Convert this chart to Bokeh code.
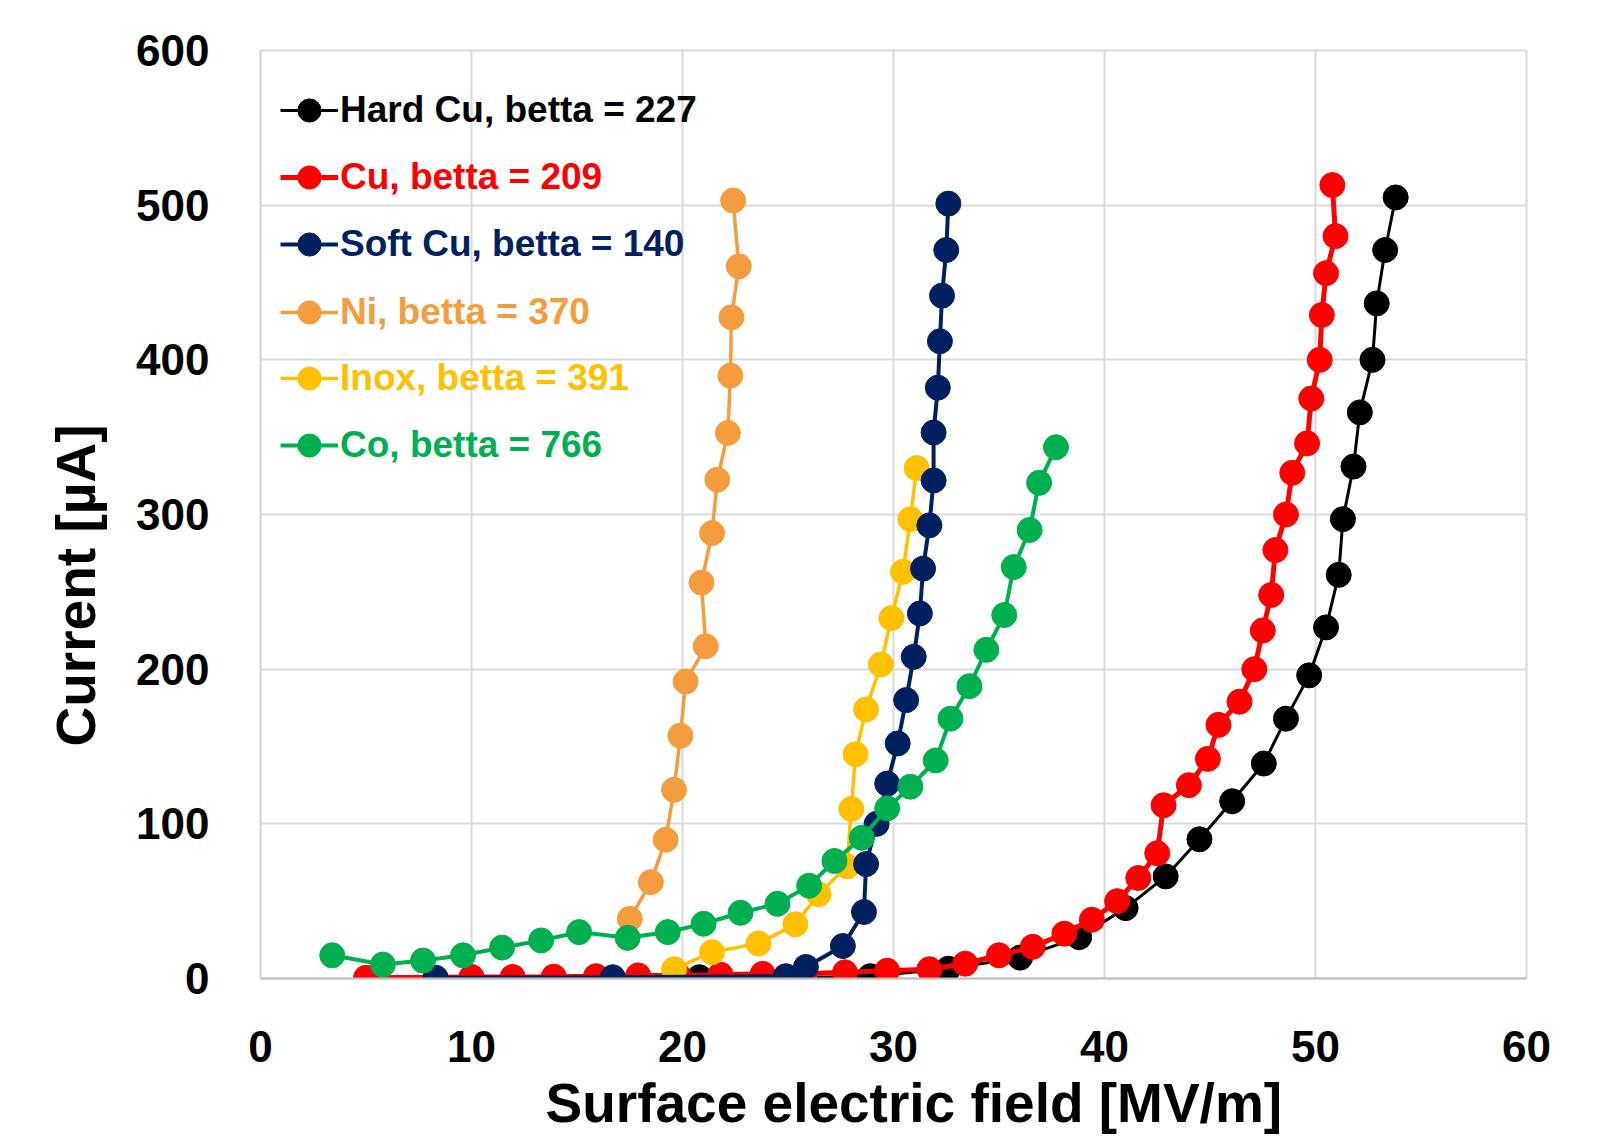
from bokeh.plotting import figure
from bokeh.models import Legend, LegendItem, Title, FixedTicker, Range1d
from bokeh.embed import file_html
from bokeh.resources import INLINE

# ---- data ----
hard_cu_x = [20.8, 24.95, 28.9, 32.6, 36.0, 38.8, 41.0, 42.9, 44.5, 46.05, 47.55,
             48.6, 49.7, 50.5, 51.1, 51.3, 51.8, 52.1, 52.7, 52.9, 53.3, 53.8]
hard_cu_y = [0.8, 0.5, 1.5, 6.3, 13.5, 26.7, 45.5, 66, 90, 114.6, 139,
             168, 196, 227, 261, 297, 331, 366, 400, 436.5, 471, 505]

cu_x = [5.0, 10.0, 11.95, 13.9, 15.9, 17.9, 19.8, 21.8, 23.8, 25.8, 27.7, 29.7, 31.7,
        33.4, 35.0, 36.6, 38.1, 39.4, 40.6, 41.6, 42.5, 42.8, 44.0, 44.9, 45.4, 46.4,
        47.1, 47.5, 47.9, 48.1, 48.6, 48.9, 49.6, 49.8, 50.2, 50.3, 50.5, 50.95, 50.8]
cu_y = [0.5, 1, 1, 1.2, 1.5, 2, 2, 2.5, 3, 3, 4, 5, 6,
        9.6, 15, 20.5, 29, 38, 50, 65, 81, 112, 125, 142, 164, 179,
        200, 225, 248, 277, 300, 327, 346, 375, 400, 429, 456, 480, 513]

soft_cu_x = [8.3, 16.7, 24.9, 25.85, 27.6, 28.6, 28.7, 29.2, 29.7, 30.2, 30.6,
             30.96, 31.25, 31.4, 31.7, 31.9, 31.9, 32.1, 32.2, 32.3, 32.5, 32.6]
soft_cu_y = [0.5, 0.8, 1.5, 7.5, 21, 43, 74, 100, 126, 152, 180,
             208, 236, 265, 293, 322, 353, 382, 412, 441.5, 471, 501]

ni_x = [17.5, 18.5, 19.2, 19.6, 19.9, 20.15, 21.1, 20.9, 21.4, 21.65, 22.15,
        22.27, 22.32, 22.67, 22.4]
ni_y = [38.6, 62.3, 89.7, 122, 157, 192, 214.8, 256, 288, 322.5, 352.7,
        389.8, 427.5, 460.5, 503]

inox_x = [19.6, 21.4, 23.6, 25.35, 26.45, 27.8, 28.0, 28.2, 28.7, 29.4, 29.9,
          30.45, 30.8, 31.1]
inox_y = [6, 17, 22.7, 35, 54.5, 72.5, 109.6, 145, 174, 203, 233,
          263, 297, 330]

co_x = [3.4, 5.8, 7.7, 9.6, 11.45, 13.3, 15.1, 17.4, 19.3, 21.0, 22.75, 24.5, 26.0,
        27.2, 28.5, 29.7, 30.8, 32.0, 32.7, 33.6, 34.4, 35.25, 35.7, 36.45, 36.9, 37.7]
co_y = [15, 9, 11.6, 15, 20, 24.6, 30, 26.3, 30, 35.4, 42.5, 48.3, 60,
        76, 91, 110, 124, 141, 168, 189, 212.5, 235, 266, 290, 320.5, 343.5]

series_labels = ["Hard Cu, betta = 227", "Cu, betta = 209", "Soft Cu, betta = 140",
                 "Ni, betta = 370", "Inox, betta = 391", "Co, betta = 766"]
series_colors = ["#000000", "#FF0000", "#002060", "#F59D3E", "#FFC000", "#00B050"]
x_ticks = [0, 10, 20, 30, 40, 50, 60]
y_ticks = [0, 100, 200, 300, 400, 500, 600]
x_title = "Surface electric field [MV/m]"
y_title = "Current [µA]"

FONT = "Liberation Sans"

p = figure(width=1613, height=1142, x_range=Range1d(0, 60), y_range=Range1d(0, 600),
           output_backend="svg", toolbar_location=None,
           min_border_left=260, min_border_right=87, min_border_top=50, min_border_bottom=164)
p.background_fill_color = "white"
p.border_fill_color = "white"
p.outline_line_color = "#D9D9D9"
p.outline_line_width = 2

p.xaxis.ticker = FixedTicker(ticks=x_ticks)
p.yaxis.ticker = FixedTicker(ticks=y_ticks)
for ax in (p.xaxis[0], p.yaxis[0]):
    ax.major_tick_out = 0
    ax.major_tick_in = 0
    ax.minor_tick_out = 0
    ax.minor_tick_in = 0
    ax.major_label_text_font = FONT
    ax.major_label_text_font_style = "bold"
    ax.major_label_text_font_size = "44px"
    ax.major_label_text_color = "black"
p.xaxis.axis_line_color = "#BFBFBF"
p.xaxis.axis_line_width = 2
p.yaxis.axis_line_color = "#D9D9D9"
p.yaxis.axis_line_width = 2
p.xaxis.major_label_standoff = 52
p.yaxis.major_label_standoff = 51

p.xgrid.grid_line_color = "#D9D9D9"
p.ygrid.grid_line_color = "#D9D9D9"
p.xgrid.grid_line_width = 2
p.ygrid.grid_line_width = 2

data = [
    (hard_cu_x, hard_cu_y, 3),
    (cu_x, cu_y, 5),
    (soft_cu_x, soft_cu_y, 4),
    (ni_x, ni_y, 3.5),
    (inox_x, inox_y, 3.5),
    (co_x, co_y, 4),
]
draw_order = [0, 1, 4, 2, 3, 5]
renderers = {}
for i in draw_order:
    xs, ys, lw = data[i]
    c = series_colors[i]
    l = p.line(xs, ys, line_color=c, line_width=lw)
    s = p.scatter(xs, ys, size=25, fill_color=c, line_color=c)
    renderers[i] = [l, s]

legend_bottoms = [838, 771, 704, 636, 570, 503]
for i in range(6):
    leg = Legend(items=[LegendItem(label=series_labels[i], renderers=renderers[i])],
                 location=(20, legend_bottoms[i]), orientation="vertical",
                 glyph_width=58, glyph_height=60, label_height=60, label_standoff=2,
                 label_text_font=FONT, label_text_font_style="bold",
                 label_text_font_size="37px", label_text_color=series_colors[i],
                 padding=0, margin=0, spacing=0, border_line_color=None,
                 background_fill_alpha=0)
    p.add_layout(leg)

xt = Title(text=x_title, align="left", offset=285, standoff=10,
           text_font=FONT, text_font_style="bold", text_font_size="55px",
           text_color="black")
p.add_layout(xt, "below")
yt = Title(text=y_title, align="left", offset=232, standoff=54,
           text_font=FONT, text_font_style="bold", text_font_size="55px",
           text_color="black")
p.add_layout(yt, "left")

open("out.html", "w").write(file_html(p, INLINE))
